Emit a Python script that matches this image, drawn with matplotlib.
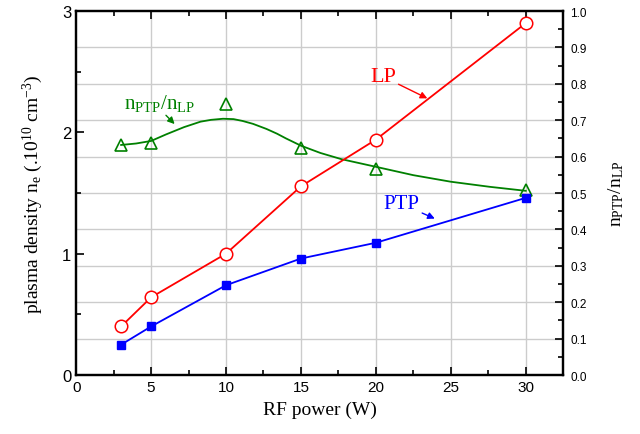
import matplotlib
matplotlib.use("Agg")
import matplotlib.pyplot as plt
from matplotlib.ticker import MultipleLocator

plt.rcParams["font.family"] = ["Liberation Sans", "DejaVu Sans"]
plt.rcParams["mathtext.fontset"] = "custom"
plt.rcParams["mathtext.rm"] = "Liberation Serif"
plt.rcParams["mathtext.it"] = "Liberation Serif"

# measured data
power = [3, 5, 10, 15, 20, 30]
n_lp = [0.40, 0.64, 1.00, 1.555, 1.94, 2.90]
n_ptp = [0.25, 0.40, 0.74, 0.96, 1.09, 1.46]
ratio = [0.632, 0.637, 0.745, 0.623, 0.565, 0.507]

# smooth fit curve of the ratio
fit_x = [3.0, 4.0, 5.0, 6.0, 7.2, 8.3, 9.0, 9.8, 10.5, 11.1, 11.8, 12.7, 13.4,
         14.0, 15.0, 16.3, 17.7, 20.0, 22.5, 25.0, 27.6, 30.0]
fit_y = [0.632, 0.636, 0.643, 0.661, 0.681, 0.696, 0.701, 0.704, 0.703, 0.698,
         0.690, 0.676, 0.663, 0.650, 0.630, 0.610, 0.593, 0.572, 0.549, 0.531,
         0.517, 0.506]

serif = ["Liberation Serif", "DejaVu Serif"]
red, blue, green = "#ff0000", "#0000ff", "#008000"

fig = plt.figure(figsize=(6.4, 4.35), dpi=100)
ax = fig.add_axes([0.119, 0.1356, 0.761, 0.8368])
ax2 = ax.twinx()

ax.set_xlim(0, 32.5)
ax.set_ylim(0, 3)
ax2.set_ylim(0, 1.0)

# grid: vertical from x, horizontal from right axis
ax.set_zorder(ax2.get_zorder() + 1)
ax.patch.set_visible(False)
for xv in range(5, 31, 5):
    ax2.axvline(xv, color="#cccccc", lw=1.0, zorder=0)
for k in range(1, 10):
    ax2.axhline(k / 10, color="#cccccc", lw=1.0, zorder=0)

ax.plot(power, n_lp, "-o", color=red, lw=1.3, ms=9, mfc="white", mec=red, mew=1.1)
ax.plot(power, n_ptp, "-s", color=blue, lw=1.3, ms=5.5, mfc=blue, mec=blue)
ax2.plot(fit_x, fit_y, "-", color=green, lw=1.3)
ax2.plot(power, ratio, "^", ms=8, mfc="none", mec=green, mew=1.2)

ax.xaxis.set_major_locator(MultipleLocator(5))
ax.xaxis.set_minor_locator(MultipleLocator(2.5))
ax.yaxis.set_major_locator(MultipleLocator(1))
ax.yaxis.set_minor_locator(MultipleLocator(0.5))
ax2.yaxis.set_major_locator(MultipleLocator(0.1))
ax2.yaxis.set_minor_locator(MultipleLocator(0.05))
ax2.yaxis.set_major_formatter(plt.FormatStrFormatter("%.1f"))

ax.tick_params(which="both", direction="in", top=True, right=False, width=1.2)
ax.tick_params(which="major", length=6, labelsize=12)
ax.tick_params(which="minor", length=3.5)
ax.tick_params(axis="x", labelsize=11)
ax2.tick_params(which="both", direction="in", width=1.2)
ax2.tick_params(which="major", length=6, labelsize=8.5, pad=5)
ax2.tick_params(which="minor", length=3.5)
for a in (ax, ax2):
    for s in a.spines.values():
        s.set_linewidth(1.6)

ax.set_xlabel("RF power (W)", family=serif, fontsize=14, labelpad=5)
ax.set_ylabel(r"plasma density n$_\mathregular{e}$ (.10$^\mathregular{10}$ cm$^\mathregular{-3}$)",
              family=serif, fontsize=14, labelpad=12)
ax2.set_ylabel(r"n$_\mathregular{PTP}$/n$_\mathregular{LP}$", family=serif, fontsize=14, labelpad=14)

ax.annotate("LP", xy=(23.6, 2.27), xytext=(19.6, 2.46), color=red, family=serif,
            fontsize=16, va="center",
            arrowprops=dict(arrowstyle="-|>", color=red, lw=1.0, shrinkA=0, mutation_scale=10))
ax.annotate("PTP", xy=(24.1, 1.28), xytext=(20.5, 1.41), color=blue, family=serif,
            fontsize=15, va="center",
            arrowprops=dict(arrowstyle="-|>", color=blue, lw=1.0, shrinkA=0, mutation_scale=10))
ax2.annotate(r"n$_\mathregular{PTP}$/n$_\mathregular{LP}$", xy=(6.7, 0.684), xytext=(3.2, 0.75),
             color=green, family=serif, fontsize=15, va="center",
             arrowprops=dict(arrowstyle="-|>", color=green, lw=1.0, shrinkA=0,
                             mutation_scale=10, relpos=(0.55, 0.0)))

fig.savefig("out.png", dpi=100)
